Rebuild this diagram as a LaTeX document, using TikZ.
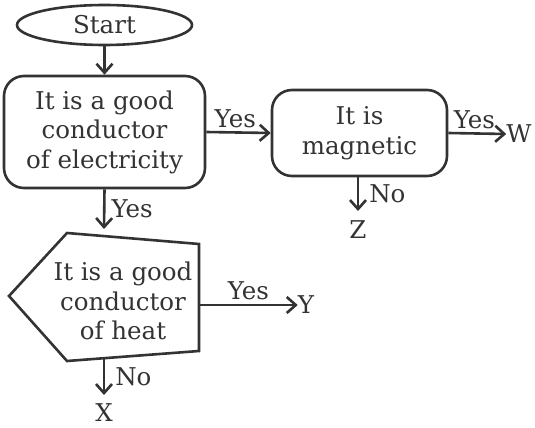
\documentclass[tikz,border=0pt]{standalone}
\usepackage{fontspec}
\setmainfont{DejaVu Serif}
\usetikzlibrary{shapes.geometric,arrows.meta}
\definecolor{ink}{HTML}{333333}
\begin{document}
\begin{tikzpicture}[x=1pt,y=-1pt,
  every node/.style={text=ink,font=\fontsize{24.5}{29.5}\selectfont,inner sep=0pt},
  line/.style={draw=ink,line width=2.6pt},
  arr/.style={line,-{Straight Barb[length=9pt,width=16pt,line width=2.6pt]}},
  rbox/.style={line,rounded corners=20pt,align=center}]
\useasboundingbox (0,0) rectangle (535,428);
% start
\node[line,ellipse,minimum width=175pt,minimum height=40pt] (start) at (104.5,25) {Start};
% box 1
\node[rbox,minimum width=201pt,minimum height=112pt] (b1) at (104.5,132) {It is a good\\conductor\\of electricity};
% box 2
\node[rbox,minimum width=175pt,minimum height=86pt] (b2) at (359.5,133) {It is\\magnetic};
% pentagon
\coordinate (p1) at (67,233);
\coordinate (p2) at (199,244);
\coordinate (p3) at (199,351);
\coordinate (p4) at (67,361);
\coordinate (p5) at (9,296);
\draw[line,line join=miter] (p1) -- (p2) -- (p3) -- (p4) -- (p5) -- cycle;
\node[align=center] (h) at (123,301) {It is a good\\conductor\\of heat};
\coordinate (hr) at (199,305);
\coordinate (ht) at (104,229);
\coordinate (hb) at (104,359);
% terminals
\node (W) at (519,134) {W};
\node (Z) at (358,230) {Z};
\node (Y) at (306,305) {Y};
\node (X) at (104,413) {X};
\coordinate (zend) at (358,211);
\coordinate (xend) at (104,395);
% connectors
\draw[arr] (start.south) -- (b1.north);
\draw[arr] (b1.east) -- (b2.west) node[pos=0.45,above=3pt] {Yes};
\draw[arr] (b2.east) -- (W.west) node[pos=0.45,above=3pt] {Yes};
\draw[arr] (b2.south -| zend) -- (zend) node[midway,right=10pt] {No};
\draw[arr] (b1.south) -- (ht) node[midway,right=6pt] {Yes};
\draw[arr] (hr) -- (Y.west) node[pos=0.5,above=4pt] {Yes};
\draw[arr] (hb) -- (xend) node[midway,right=10pt] {No};
\end{tikzpicture}
\end{document}
